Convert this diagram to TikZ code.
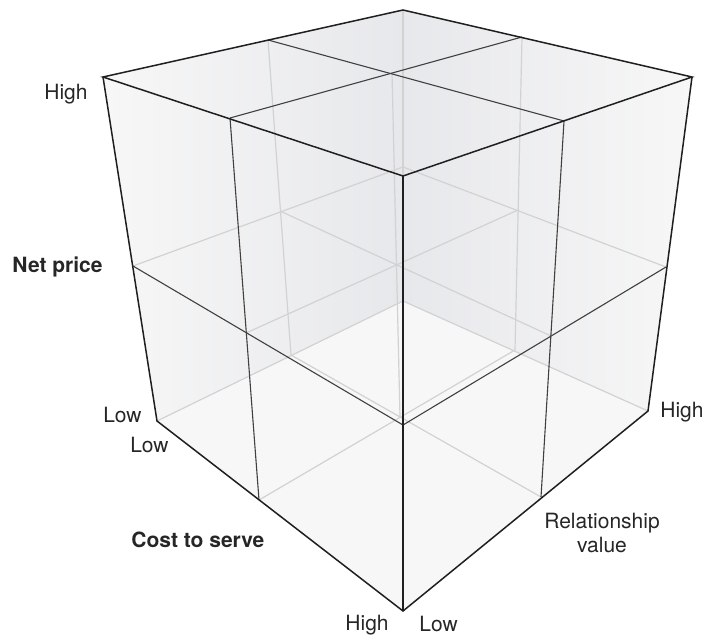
\documentclass[tikz,border=0pt]{standalone}
\usepackage{fontspec}
\setmainfont{TeX Gyre Heros}
\definecolor{cubefill}{HTML}{F7F7F7}
\definecolor{cubeshade}{HTML}{E7E8EB}
\definecolor{hiddengray}{HTML}{D2D2D2}
\begin{document}
\begin{tikzpicture}[x=0.5pt,y=-0.5pt,
	edge/.style={draw=black!88,line width=0.75pt},
	gridline/.style={draw=black!75,line width=0.55pt},
	hidden/.style={draw=hiddengray,line width=0.6pt},
	lbl/.style={font=\fontsize{10.5}{11.7}\selectfont,inner sep=0pt,text=black!85},
	axis/.style={lbl,font=\fontsize{10.5}{11.7}\selectfont\bfseries}]
	\useasboundingbox (0,0) rectangle (704,636);
	% corners and grid points, p<cost><relationship><price>
	\coordinate (p000) at (157,421);
	\coordinate (p200) at (403,611);
	\coordinate (p220) at (648,411);
	\coordinate (p020) at (403,301);
	\coordinate (p002) at (103,77);
	\coordinate (p202) at (403,176);
	\coordinate (p222) at (692,77);
	\coordinate (p022) at (403,10);
	\coordinate (p001) at (133,266);
	\coordinate (p201) at (403,425);
	\coordinate (p221) at (666,267);
	\coordinate (p021) at (403,167);
	\coordinate (p102) at (230,118);
	\coordinate (p212) at (564,121);
	\coordinate (p122) at (522,37);
	\coordinate (p012) at (268,40);
	\coordinate (p100) at (259,500);
	\coordinate (p210) at (541,497);
	\coordinate (p120) at (515,350);
	\coordinate (p010) at (291,355);
	\coordinate (p112) at (392,73);
	\coordinate (p110) at (400,417);
	\coordinate (p101) at (246,333);
	\coordinate (p211) at (551,336);
	\coordinate (p011) at (280,211);
	\coordinate (p121) at (518,210);

	% faces
	\fill[cubefill] (p002) -- (p022) -- (p222) -- (p220) -- (p200) -- (p000) -- cycle;
	\shade[left color=cubefill,right color=cubeshade] (p000) -- (p020) -- (p022) -- (p002) -- cycle;
	\shade[left color=cubeshade,right color=cubefill] (p020) -- (p220) -- (p222) -- (p022) -- cycle;

	% lines behind
	\foreach \a/\b in {010/012,020/022,120/122,110/112,011/211,021/221,010/210,020/220,001/021,101/121,000/020,100/120}
		\draw[hidden] (p\a) -- (p\b);

	% visible faces
	\foreach \a/\b in {102/100,212/210,012/212,102/122,001/201,201/221}
		\draw[gridline] (p\a) -- (p\b);
	\draw[edge] (p002) -- (p022) -- (p222) -- (p202) -- cycle;
	\draw[edge] (p002) -- (p000) -- (p200) -- (p220) -- (p222);
	\draw[edge] (p202) -- (p200);

	% labels
	\node[lbl,anchor=base east] (priceHigh) at (88,100) {High};
	\node[axis,anchor=base east] (priceName) at (103,272) {Net price};
	\node[lbl,anchor=base east] (priceLow) at (142,422) {Low};
	\node[lbl,anchor=base east] (costLow) at (169,452) {Low};
	\node[axis,anchor=base west] (costName) at (131,547) {Cost to serve};
	\node[lbl,anchor=base east] (costHigh) at (389,630) {High};
	\node[lbl,anchor=base west] (relLow) at (419,631) {Low};
	\node[lbl,align=center,anchor=north] (relName) at (602,513) {Relationship\\value};
	\node[lbl,anchor=base west] (relHigh) at (660,417) {High};
\end{tikzpicture}
\end{document}
